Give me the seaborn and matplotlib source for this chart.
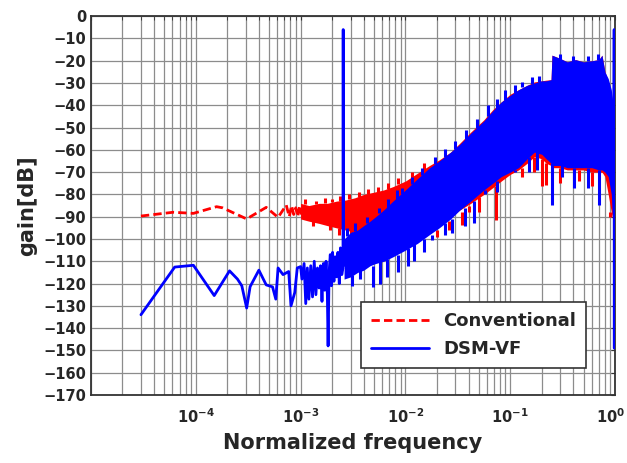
import numpy as np
import pandas as pd
import seaborn as sns
import matplotlib.pyplot as plt
import matplotlib.transforms as mtransforms
from matplotlib.ticker import FixedLocator, NullFormatter, LogLocator

# ---- data ----
# Conventional (red), low-frequency part
red_lo_f = [3e-5, 6.1e-5, 9.5e-5, 1.58e-4, 1.8e-4, 3.06e-4, 4.7e-4, 6.1e-4, 7.3e-4,
            7.8e-4, 8.2e-4, 8.6e-4, 9.0e-4, 9.4e-4, 9.8e-4, 1.02e-3]
red_lo_g = [-89.7, -88, -88.5, -85.5, -86, -91, -85.8, -90.3, -84.8,
            -90, -85, -89, -86, -90, -85, -89]

# Conventional band (upper / lower envelope)
red_band_f = [1.0e-3, 1.2e-3, 1.5e-3, 1.8e-3, 2.2e-3, 2.7e-3, 3.3e-3, 4.0e-3, 5.0e-3, 6.2e-3,
              7.6e-3, 1.0e-2, 1.3e-2, 1.7e-2, 2.1e-2, 2.7e-2, 3.3e-2, 4.2e-2, 5.6e-2, 6.8e-2,
              8.2e-2, 0.1, 0.12, 0.145, 0.17, 0.2, 0.22, 0.245, 0.25, 0.3,
              0.35, 0.42, 0.5, 0.6, 0.7, 0.75, 0.8, 0.86, 0.92, 0.96]
red_upper = [-84, -85, -84, -84, -83, -82.5, -81.5, -80, -79, -78,
             -76.5, -74, -70.5, -67, -64.5, -61, -57, -52, -46.5, -42,
             -38.5, -35, -33, -31, -29.5, -29, -28.7, -28.5, -17.5, -19,
             -20.5, -19.5, -20.5, -20, -19.5, -17.5, -25, -29, -35, -40]
red_lower = [-91, -92, -93, -94, -95, -96, -97, -97, -98, -100,
             -102, -101, -99, -96, -93, -90, -87, -84, -80, -77,
             -74, -71, -69, -66, -63, -64, -66, -67, -68, -68,
             -69, -69, -69, -70, -70, -70, -72, -80, -88, -92]

# teeth on the upper edge and spikes below the band
red_tooth_f = [1.1e-3, 1.4e-3, 1.7e-3, 2.0e-3, 2.4e-3, 2.9e-3, 3.6e-3, 4.4e-3, 5.5e-3,
               6.8e-3, 8.5e-3, 1.15e-2, 1.5e-2]
red_tooth_top = [-82, -83, -81.5, -82, -80.5, -80, -79, -77.5, -76.5, -75, -72.5, -70, -66]
red_tooth_base = [-84.5, -84.3, -84, -83.5, -82.8, -82, -81, -79.7, -78.8, -77.5, -75.5, -72.5, -69]

red_spike_f = [1.3e-3, 1.9e-3, 2.3e-3, 3.0e-3, 3.7e-3, 2.0e-2, 2.6e-2, 3.5e-2, 4.0e-2, 5.0e-2,
               7.3e-2, 0.13, 0.17, 0.2, 0.22, 0.3, 0.45, 0.6, 0.9]
red_spike_top = [-91, -93, -95, -96, -97, -96, -92, -88, -85, -81,
                 -76, -68, -63, -64, -66, -68, -69, -70, -88]
red_spike_low = [-94, -96, -98, -99, -99, -99, -96, -93.7, -88, -88,
                 -91.5, -72, -70, -76, -75.8, -75, -74, -76, -90]

# DSM-VF (blue), low-frequency part
blue_lo_f = [3e-5, 6.3e-5, 9.5e-5, 1.5e-4, 2.1e-4, 2.5e-4, 2.75e-4, 3.06e-4, 3.3e-4, 4.0e-4,
             4.7e-4, 5.4e-4, 5.8e-4, 6.1e-4, 6.8e-4, 7.7e-4, 8.1e-4, 8.8e-4, 9.3e-4, 1.0e-3,
             1.03e-3, 1.08e-3, 1.12e-3, 1.16e-3, 1.2e-3, 1.25e-3, 1.3e-3, 1.35e-3, 1.4e-3, 1.45e-3,
             1.5e-3, 1.55e-3, 1.6e-3, 1.65e-3, 1.7e-3, 1.75e-3, 1.8e-3, 1.83e-3, 1.87e-3, 1.92e-3,
             1.97e-3, 2.02e-3, 2.08e-3, 2.14e-3, 2.2e-3, 2.27e-3, 2.34e-3, 2.4e-3, 2.47e-3, 2.54e-3,
             2.55e-3, 2.56e-3, 2.6e-3]
blue_lo_g = [-134, -112.6, -111.8, -125.4, -114.3, -118, -121, -131, -121.4, -114,
             -120.6, -121.5, -127, -113, -116, -114.6, -130, -124, -113, -112.4,
             -118, -111, -129, -113, -127, -112, -126, -110, -125, -113,
             -122, -112, -128, -111, -123, -110, -125, -148, -115, -107,
             -121, -106, -119, -108, -117, -106, -120, -104, -116, -113,
             -6, -112, -110]

# DSM-VF band (upper / lower envelope)
blue_band_f = [2.6e-3, 3.0e-3, 3.5e-3, 4.0e-3, 4.6e-3, 5.2e-3, 6.2e-3, 7.6e-3, 1.0e-2, 1.3e-2,
               1.7e-2, 2.1e-2, 2.7e-2, 3.3e-2, 4.2e-2, 5.6e-2, 6.8e-2, 8.2e-2, 0.1, 0.12,
               0.145, 0.17, 0.2, 0.22, 0.245, 0.25, 0.3, 0.35, 0.42, 0.5,
               0.6, 0.7, 0.75, 0.8, 0.86, 0.92, 0.96, 0.975]
blue_upper = [-100, -97, -96, -94, -92, -90, -87, -83, -78, -73,
              -68, -65, -61, -57.5, -52.5, -47, -42.5, -38.5, -35.5, -33,
              -31, -30, -29, -29, -28.5, -17.5, -19, -20.5, -19.5, -20.5,
              -20, -19.5, -17.5, -25, -28, -33, -40, -45]
blue_lower = [-118, -117, -115, -114, -112, -111, -110, -108, -105, -102,
              -98, -95, -91, -87, -83, -78, -75, -72, -70, -68,
              -64, -61, -62, -64, -66, -67, -67, -68, -68, -68,
              -68, -69, -69, -70, -72, -80, -95, -110]

blue_tooth_f = [2.8e-3, 3.3e-3, 4.3e-3, 5.6e-3, 6.8e-3, 8.3e-3, 9.2e-3, 1.15e-2, 1.45e-2,
                1.9e-2, 2.4e-2, 3.0e-2, 3.8e-2, 4.8e-2, 6.2e-2, 7.5e-2, 9.0e-2, 0.11,
                0.13, 0.16, 0.19, 0.3, 0.4, 0.55, 0.68]
blue_tooth_top = [-95, -93, -90, -86, -82, -78, -77, -72, -68,
                  -63, -59.5, -56, -51, -46, -40, -37, -33, -31,
                  -29.5, -27.5, -27, -17, -18, -18, -17]
blue_tooth_base = [-98.5, -96.5, -93, -88.5, -86, -82, -80, -75.5, -71.5,
                   -66.5, -63, -59.5, -55, -50, -45, -41.5, -37.5, -34.5,
                   -32, -30.5, -29.5, -19.5, -20, -20, -19.7]

blue_spike_f = [3.1e-3, 3.7e-3, 4.9e-3, 5.7e-3, 6.6e-3, 8.5e-3, 1.05e-2, 1.2e-2, 1.5e-2, 1.8e-2,
                2.4e-2, 2.8e-2, 3.7e-2, 4.5e-2, 5.7e-2, 7.5e-2, 0.11, 0.15, 0.18, 0.25,
                0.31, 0.41, 0.55, 0.71]
blue_spike_top = [-116, -114, -112, -110, -109, -107, -104, -102, -100, -98,
                  -93, -91, -86, -83, -78, -74, -69, -63, -61, -66,
                  -67, -68, -68, -69]
blue_spike_low = [-121, -118, -121.5, -120, -117, -115, -112, -110, -106, -100.6,
                  -98, -97.5, -94, -93, -79.6, -79, -70, -70, -69, -84.7,
                  -72, -77, -77, -84.7]

# right edge of DSM-VF
blue_tail_f = [0.975, 0.98, 0.981]
blue_tail_g = [-45, -6, -149]

xtick_pos = [1e-5, 1e-4, 1e-3, 1e-2, 1e-1, 1]
xtick_lab = ["", r"$\mathbf{10}^{\mathbf{-4}}$", r"$\mathbf{10}^{\mathbf{-3}}$",
             r"$\mathbf{10}^{\mathbf{-2}}$", r"$\mathbf{10}^{\mathbf{-1}}$",
             r"$\mathbf{10}^{\mathbf{0}}$"]

RED = "#ff0000"
BLUE = "#0000ff"

sns.set_style("white")
plt.rcParams["font.family"] = ["DejaVu Sans"]
plt.rcParams["font.weight"] = "bold"

fig = plt.figure(figsize=(6.27, 4.63), dpi=100)
ax = fig.add_axes([0.145, 0.147, 0.836, 0.818])

# Conventional
ax.fill_between(red_band_f, red_lower, red_upper, color=RED, lw=0, zorder=2)
ax.vlines(red_tooth_f, red_tooth_base, red_tooth_top, color=RED, lw=2.2, zorder=2)
ax.vlines(red_spike_f, red_spike_low, red_spike_top, color=RED, lw=2.2, zorder=2)
sns.lineplot(x=red_lo_f, y=red_lo_g, ax=ax, color=RED, lw=2, linestyle=(0, (3, 1.5)),
             label="Conventional", sort=False, zorder=3)

# DSM-VF
ax.fill_between(blue_band_f, blue_lower, blue_upper, color=BLUE, lw=0, zorder=4)
ax.vlines(blue_tooth_f, blue_tooth_base, blue_tooth_top, color=BLUE, lw=2.2, zorder=4)
ax.vlines(blue_spike_f, blue_spike_low, blue_spike_top, color=BLUE, lw=2.2, zorder=4)
sns.lineplot(x=blue_lo_f, y=blue_lo_g, ax=ax, color=BLUE, lw=2, label="DSM-VF",
             sort=False, zorder=5)
sns.lineplot(x=blue_tail_f, y=blue_tail_g, ax=ax, color=BLUE, lw=2, sort=False, zorder=5)

ax.set_xscale("log")
ax.set_xlim(1e-5, 1)
ax.set_ylim(-170, 0)

ax.xaxis.set_major_locator(FixedLocator(xtick_pos))
ax.xaxis.set_minor_locator(LogLocator(base=10, subs=np.arange(2, 10), numticks=20))
ax.xaxis.set_minor_formatter(NullFormatter())
ax.set_xticks(xtick_pos)
ax.set_xticklabels(xtick_lab)
ax.set_yticks(np.arange(-170, 1, 10))
ax.set_yticklabels([f"\u2212{abs(v)}" if v < 0 else "0" for v in range(-170, 1, 10)])

ax.grid(True, which="both", axis="x", color="#8c8c8c", lw=0.9)
ax.grid(True, which="major", axis="y", color="#8c8c8c", lw=0.9)
ax.set_axisbelow(True)
ax.tick_params(axis="both", which="both", direction="in", labelsize=10.5, top=True, right=True,
               length=3, color="#333333")
ax.tick_params(axis="x", which="major", pad=9)
for s in ax.spines.values():
    s.set_color("#333333")
    s.set_linewidth(1.3)

# last x label sits at the figure edge: nudge it left a little so it is not clipped
last = ax.get_xticklabels()[-1]
last.set_transform(last.get_transform() +
                   mtransforms.ScaledTranslation(-5 / 100, 0, fig.dpi_scale_trans))

ax.set_xlabel("Normalized frequency", fontsize=15, fontweight="bold", labelpad=5)
ax.set_ylabel("gain[dB]", fontsize=15, fontweight="bold", labelpad=4)

handles, labels = ax.get_legend_handles_labels()
leg = ax.legend(handles[:2], labels[:2], loc="lower right", bbox_to_anchor=(0.962, 0.047),
                fancybox=False, edgecolor="#333333", framealpha=1, handlelength=3.2,
                prop={"weight": "bold", "size": 13}, borderpad=0.55, labelspacing=0.55)
leg.get_frame().set_linewidth(1.2)

fig.savefig("out.png", dpi=100)
